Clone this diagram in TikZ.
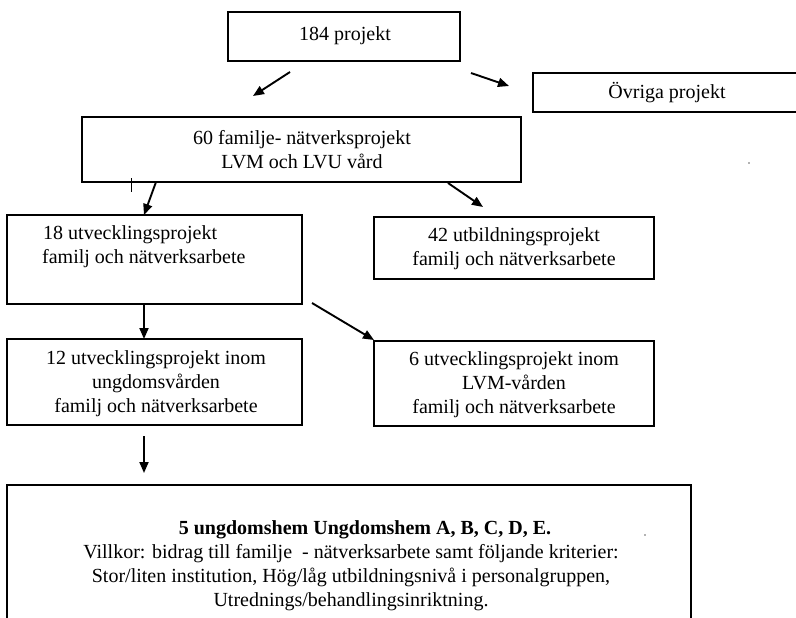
\documentclass[tikz,border=0pt]{standalone}
\usepackage{fontspec}
\setmainfont{Liberation Serif}
\usetikzlibrary{arrows.meta}
\tikzset{
  boxn/.style 2 args={draw, line width=1.6pt, inner sep=0pt, minimum width=#1, minimum height=#2},
  txt/.style={inner sep=0pt, align=center, font=\fontsize{20}{24}\selectfont},
  arr/.style={line width=1.9pt, -{Triangle[length=11pt,width=9pt]}},
  speck/.style={fill=black!60, draw=none}
}
\begin{document}
\begin{tikzpicture}[x=1pt,y=-1pt]
\useasboundingbox (0,0) rectangle (796,618);
% boxes
\node[boxn={232pt}{49pt}] (n184) at (344,36.5) {};
\node[txt] (t184) at (345,36) {184 projekt};
\node[boxn={267pt}{39pt}] (novr) at (666.5,92.5) {};
\node[txt] (tovr) at (667,93) {Övriga projekt};
\node[boxn={439pt}{65pt}] (n60) at (301.5,149.5) {};
\node[txt] (t60) at (302,150) {60 familje- nätverksprojekt\\LVM och LVU vård};
\node[boxn={295pt}{89pt}] (n18) at (154.5,259.5) {};
\node[txt, anchor=west, align=left] (t18) at (42,247) {\hspace*{1pt}18 utvecklingsprojekt\\familj och nätverksarbete};
\node[boxn={280pt}{62pt}] (n42) at (514,248) {};
\node[txt] (t42) at (514,249) {42 utbildningsprojekt\\familj och nätverksarbete};
\node[boxn={295pt}{86pt}] (n12) at (154.5,382) {};
\node[txt] (t12) at (156,384) {12 utvecklingsprojekt inom\\ungdomsvården\\familj och nätverksarbete};
\node[boxn={280pt}{85pt}] (n6) at (514,383.5) {};
\node[txt] (t6) at (514,385) {6 utvecklingsprojekt inom\\LVM-vården\\familj och nätverksarbete};
\node[boxn={684pt}{145pt}] (nbot) at (349,557.5) {};
\node[txt] (tbot) at (351,565.5) {\hspace*{28pt}\textbf{5 ungdomshem Ungdomshem A, B, C, D, E.}\\Villkor: bidrag till familje \ - nätverksarbete samt följande kriterier:\\Stor/liten institution, Hög/låg utbildningsnivå i personalgruppen,\\Utrednings/behandlingsinriktning.};
% arrow end points
\coordinate (a1s) at (290,72);  \coordinate (a1e) at (253,96);
\coordinate (a2s) at (471,73);  \coordinate (a2e) at (509,86);
\coordinate (a3s) at (156,182); \coordinate (a3e) at (144,215);
\coordinate (a4s) at (448,183); \coordinate (a4e) at (483,207);
\coordinate (a5s) at (144,304); \coordinate (a5e) at (144,339);
\coordinate (a6s) at (312,303); \coordinate (a6e) at (374,340);
\coordinate (a7s) at (144,436); \coordinate (a7e) at (144,473);
\draw[arr] (a1s) -- (a1e);
\draw[arr] (a2s) -- (a2e);
\draw[arr] (a3s) -- (a3e);
\draw[arr] (a4s) -- (a4e);
\draw[arr] (a5s) -- (a5e);
\draw[arr] (a6s) -- (a6e);
\draw[arr] (a7s) -- (a7e);
% small tick
\coordinate (tk1) at (131,178); \coordinate (tk2) at (131,192);
\draw[line width=1pt] (tk1) -- (tk2);
% specks
\fill[speck] (749,163) circle (0.9pt);
\fill[speck] (645,535) circle (0.9pt);
\end{tikzpicture}
\end{document}
